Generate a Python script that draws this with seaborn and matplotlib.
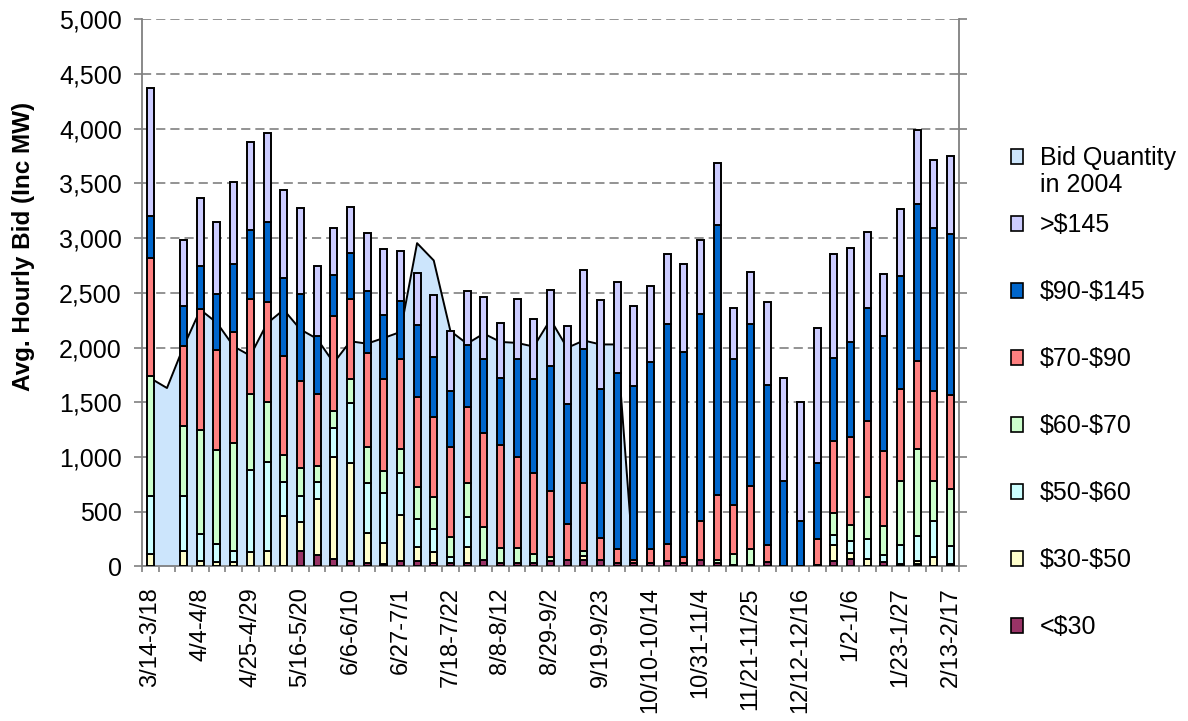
import numpy as np
import pandas as pd
import matplotlib
matplotlib.use("Agg")
import matplotlib.pyplot as plt
from matplotlib.patches import Patch
from matplotlib.ticker import StrMethodFormatter
import seaborn as sns

# ── Data ──────────────────────────────────────────────────────────────────────
N_WEEKS = 49
WEEK_LABELS = ["3/14-3/18", "4/4-4/8", "4/25-4/29", "5/16-5/20", "6/6-6/10",
               "6/27-7/1", "7/18-7/22", "8/8-8/12", "8/29-9/2", "9/19-9/23",
               "10/10-10/14", "10/31-11/4", "11/21-11/25", "12/12-12/16",
               "1/2-1/6", "1/23-1/27", "2/13-2/17"]   # every third week

BANDS  = [">$145", "$90-$145", "$70-$90", "$60-$70", "$50-$60", "$30-$50", "<$30"]
COLORS = ["#CCCCFF", "#0066CC", "#FF8080", "#CCFFCC", "#CCFFFF", "#FFFFCC", "#993366"]

lt30 = [0, None, 0, 0, 0, 0, 0, 0, 0, 143,
        107, 70, 52, 36, 24, 52, 52, 30, 36, 30,
        61, 36, 36, 36, 46, 61, 61, 61, 30, 30,
        30, 46, 30, 61, 30, 15, 15, 37, 0, 0,
        15, 52, 67, 0, 37, 21, 21, 0, 21]
b30_50 = [113, None, 143, 52, 37, 37, 131, 146, 457, 259,
          512, 933, 890, 274, 189, 419, 130, 98, 0, 152,
          0, 0, 0, 0, 0, 0, 37, 0, 0, 0,
          0, 0, 0, 0, 0, 0, 0, 0, 0, 0,
          0, 146, 55, 67, 0, 0, 31, 91, 0]
b50_60 = [527, None, 497, 244, 167, 109, 747, 805, 311, 238,
          149, 259, 553, 456, 461, 386, 255, 218, 55, 268,
          0, 0, 0, 0, 0, 0, 0, 0, 0, 0,
          0, 0, 0, 0, 0, 0, 0, 0, 0, 0,
          0, 92, 113, 183, 70, 177, 222, 327, 162]
b60_70 = [1098, None, 641, 948, 857, 982, 698, 549, 253, 259,
          147, 162, 215, 328, 198, 218, 292, 292, 182, 316,
          304, 131, 131, 76, 45, 0, 45, 0, 0, 0,
          0, 0, 0, 0, 31, 98, 144, 0, 0, 0,
          0, 198, 146, 384, 259, 586, 802, 366, 527]
b70_90 = [1076, None, 731, 1104, 915, 1012, 869, 915, 900, 799,
          661, 860, 736, 856, 838, 818, 820, 729, 821, 692,
          850, 942, 836, 745, 601, 326, 619, 198, 132, 31,
          132, 158, 61, 357, 595, 451, 573, 161, 0, 0,
          235, 661, 802, 698, 692, 838, 805, 823, 860]
b90_145 = [387, None, 366, 396, 509, 619, 628, 732, 710, 787,
           525, 381, 416, 562, 584, 528, 654, 547, 510, 562,
           678, 617, 890, 853, 1137, 1098, 1226, 1366, 1606, 1585,
           1704, 2007, 1866, 1884, 2465, 1333, 1479, 1464, 784, 412,
           695, 754, 866, 1025, 1046, 1031, 1427, 1485, 1464]
gt145 = [1171, None, 604, 625, 662, 753, 805, 808, 808, 793,
         643, 427, 419, 532, 604, 459, 477, 568, 547, 495,
         568, 498, 553, 553, 696, 710, 719, 808, 830, 732,
         695, 646, 808, 680, 565, 460, 478, 753, 939, 1088,
         1232, 954, 860, 698, 570, 609, 680, 622, 716]

# 2004 bid quantity (area series, stops in October)
area_2004 = [1720, 1630, 2010, 2345, 2225, 2010, 1925, 2220, 2345, 2165,
             2080, 1860, 2057, 2035, 2087, 2142, 2953, 2795, 2150, 2035,
             2127, 2051, 2042, 2008, 2256, 1997, 2064, 2028, 2028, 0]

AREA_COLOR = "#CCE5FC"
GRAY = "#808080"

# ── Long-form table for seaborn ───────────────────────────────────────────────
band_values = dict(zip(BANDS, [gt145, b90_145, b70_90, b60_70, b50_60, b30_50, lt30]))
rows = []
for band, vals in band_values.items():
    for wk, v in enumerate(vals):
        if v is not None:
            rows.append({"week": wk, "band": band, "mw": v})
df = pd.DataFrame(rows)

# ── Figure ────────────────────────────────────────────────────────────────────
sns.set_theme(style="white")
plt.rcParams["font.family"] = ["Liberation Sans", "DejaVu Sans"]
plt.rcParams["text.color"] = "black"
plt.rcParams["axes.labelcolor"] = "black"

fig = plt.figure(figsize=(11.88, 7.21), dpi=100)
ax = fig.add_axes([0.1195, 0.2143, 0.6877, 0.7593])

# area first, so the bars sit on top of it
x_area = np.arange(len(area_2004))
ax.fill_between(x_area, area_2004, color=AREA_COLOR, linewidth=0, zorder=1)
sns.lineplot(x=x_area, y=area_2004, color="black", linewidth=1.4, ax=ax, zorder=2)

sns.histplot(
    data=df, x="week", weights="mw", hue="band", hue_order=BANDS,
    multiple="stack", discrete=True, shrink=0.42,
    palette=dict(zip(BANDS, COLORS)), alpha=1,
    edgecolor="black", linewidth=1.4, legend=False, ax=ax,
)
for p in list(ax.patches):
    if p.get_height() == 0:
        p.remove()
    else:
        p.set_zorder(3)

# ── Axes styling ──────────────────────────────────────────────────────────────
ax.set_xlim(-0.5, N_WEEKS - 0.5)
ax.set_ylim(0, 5000)
ax.set_yticks(np.arange(0, 5001, 500))
ax.yaxis.set_major_formatter(StrMethodFormatter("{x:,.0f}"))
ax.set_xticks(np.arange(0, N_WEEKS, 3))
ax.set_xticklabels(WEEK_LABELS, rotation=90)
ax.set_xticks(np.arange(-0.5, N_WEEKS, 1), minor=True)

ax.set_xlabel("")
ax.set_ylabel("Avg. Hourly Bid (Inc MW)", fontsize=17.5, fontweight="bold")
ax.yaxis.set_label_coords(-0.131, 0.585)

ax.grid(axis="y", color=GRAY, linestyle=(0, (5.5, 3)), linewidth=1.2, zorder=0)
ax.set_axisbelow(True)

for side in ["left", "right", "bottom"]:
    ax.spines[side].set_color(GRAY)
    ax.spines[side].set_linewidth(1.3)
    ax.spines[side].set_visible(True)
ax.spines["top"].set_visible(False)

ax.tick_params(axis="y", which="major", left=True, right=True, labelright=False,
               direction="out", length=5.5, width=1.2, color=GRAY,
               labelsize=18, pad=9, labelcolor="black")
ax.tick_params(axis="x", which="major", length=0, pad=15, labelsize=17,
               labelcolor="black")
ax.tick_params(axis="x", which="minor", bottom=True, direction="out",
               length=4.5, width=1.2, color=GRAY)

# ── Legend ────────────────────────────────────────────────────────────────────
handles = [Patch(facecolor=AREA_COLOR, edgecolor="black", linewidth=1.2)]
handles += [Patch(facecolor=c, edgecolor="black", linewidth=1.2) for c in COLORS]
labels = ["Bid Quantity"] + [b.replace("$", r"\$") for b in BANDS]
leg = fig.legend(handles, labels, loc="upper left", bbox_to_anchor=(0.851, 0.797),
                 frameon=False, fontsize=18, labelspacing=1.72,
                 handlelength=0.5, handleheight=0.5, handletextpad=0.65,
                 borderaxespad=0, borderpad=0)

fig.canvas.draw()
bb = leg.get_texts()[0].get_window_extent(fig.canvas.get_renderer())
fig.text(bb.x0 / fig.bbox.width, (bb.y0 - 27) / fig.bbox.height, "in 2004",
         fontsize=18, ha="left", va="bottom")

fig.savefig("out.png", dpi=100)
